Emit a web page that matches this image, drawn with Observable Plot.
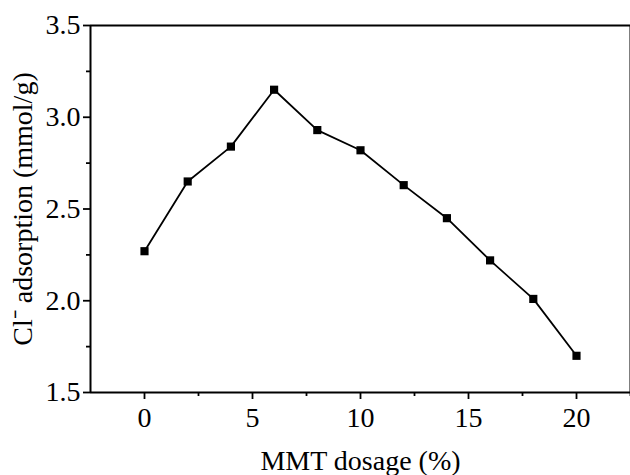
<!DOCTYPE html>
<html>
<head>
<meta charset="utf-8">
<script src="https://cdn.jsdelivr.net/npm/d3@7"></script>
<script src="https://cdn.jsdelivr.net/npm/@observablehq/plot@0.6"></script>
<style>
  html, body { margin: 0; padding: 0; background: #fff; }
  #chart svg { display: block; }
</style>
</head>
<body>
<div id="chart"></div>
<script>
// Chloride adsorption capacity versus montmorillonite (MMT) dosage
const dosage = [0, 2, 4, 6, 8, 10, 12, 14, 16, 18, 20];
const adsorption = [2.27, 2.65, 2.84, 3.15, 2.93, 2.82, 2.63, 2.45, 2.22, 2.01, 1.70];

const xTicks = [0, 5, 10, 15, 20];
const xMinorTicks = [2.5, 7.5, 12.5, 17.5, 22.5];
const yTicks = [1.5, 2.0, 2.5, 3.0, 3.5];
const yMinorTicks = [1.75, 2.25, 2.75, 3.25];

const xLabel = "MMT dosage (%)";
const yLabel = "Cl\u207B adsorption (mmol/g)";

const points = dosage.map((d, i) => ({dosage: d, adsorption: adsorption[i]}));

const serif = "'Liberation Serif', 'Times New Roman', serif";

const chart = Plot.plot({
  width: 630,
  height: 475,
  marginLeft: 90,
  marginRight: 0,
  marginTop: 25,
  marginBottom: 83,
  style: {fontFamily: serif, fontSize: "28px", color: "black", background: "white", overflow: "hidden"},
  x: {domain: [-2.5, 22.5]},
  y: {domain: [1.5, 3.5]},
  marks: [
    // major and minor ticks
    Plot.axisX(xTicks, {tickSize: 7, tickPadding: 8, strokeWidth: 1.8, label: null, fontSize: 28}),
    Plot.axisX(xMinorTicks, {tickSize: 4, strokeWidth: 1.8, tickFormat: () => "", label: null}),
    Plot.axisY(yTicks, {tickSize: 7, tickPadding: 3, strokeWidth: 1.8, tickFormat: d3.format(".1f"), label: null, fontSize: 28}),
    Plot.axisY(yMinorTicks, {tickSize: 4, strokeWidth: 1.8, tickFormat: () => "", label: null}),
    // box around the plotting area
    Plot.ruleY([1.5, 3.5], {strokeWidth: 2}),
    Plot.ruleX([-2.5, 22.5], {strokeWidth: 2}),
    // data series
    Plot.line(points, {x: "dosage", y: "adsorption", stroke: "black", strokeWidth: 1.8}),
    Plot.dot(points, {x: "dosage", y: "adsorption", symbol: "square", r: 4.6, fill: "black", stroke: "none"}),
    // axis titles
    Plot.text([xLabel], {frameAnchor: "bottom", textAnchor: "middle", lineAnchor: "middle", dy: 69, fontSize: 28, fill: "black"}),
    Plot.text([yLabel], {frameAnchor: "left", textAnchor: "middle", lineAnchor: "middle", dx: -67, rotate: -90, fontSize: 28, fill: "black"})
  ]
});

document.getElementById("chart").append(chart);
</script>
</body>
</html>
